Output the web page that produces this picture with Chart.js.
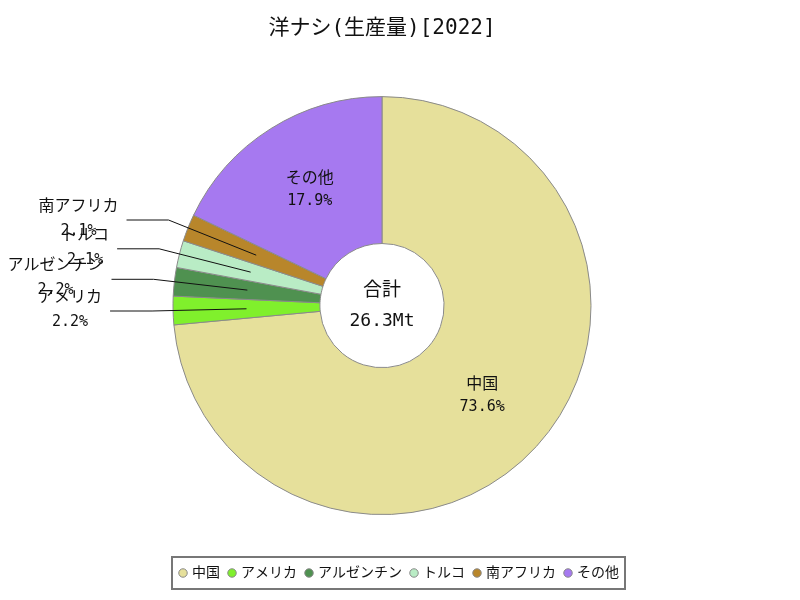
<!DOCTYPE html>
<html>
<head>
<meta charset="utf-8">
<script src="https://cdn.jsdelivr.net/npm/chart.js@4/dist/chart.umd.min.js"></script>
<style>
  html, body { margin: 0; padding: 0; background: #fff; }
  #wrap { width: 800px; height: 600px; }
</style>
</head>
<body>
<div id="wrap"><canvas id="c" width="800" height="600"></canvas></div>
<script>
// ---- data ----
const titleText = '洋ナシ(生産量)[2022]';
const categories = ['中国', 'アメリカ', 'アルゼンチン', 'トルコ', '南アフリカ', 'その他'];
const shares = [73.6, 2.2, 2.2, 2.1, 2.1, 17.9];
const centerTitle = '合計';
const centerTotal = '26.3Mt';

// ---- styles ----
const sliceColors = ['#e6e09b', '#80f02c', '#4f9150', '#b9ecc5', '#b8862b', '#a679f0'];
const FAMILY = "'DejaVu Sans Mono', 'Noto Sans CJK JP', sans-serif";

const labelPlugin = {
  id: 'sliceLabels',
  afterLayout(chart) {
    // center the legend on the full canvas width
    const lg = chart.legend;
    if (lg) { lg.left += 18; lg.right += 18; }
  },
  afterDatasetsDraw(chart) {
    const ctx = chart.ctx;
    const meta = chart.getDatasetMeta(0);
    ctx.save();
    ctx.fillStyle = '#111';
    ctx.textAlign = 'center';
    ctx.textBaseline = 'middle';
    const nameFont = '16px ' + FAMILY;
    const pctFont = '15px ' + FAMILY;
    meta.data.forEach((arc, i) => {
      const p = arc.getProps(['x', 'y', 'startAngle', 'endAngle', 'innerRadius', 'outerRadius'], true);
      const mid = (p.startAngle + p.endAngle) / 2;
      const rMid = (p.innerRadius + p.outerRadius) / 2;
      const px = p.x + Math.cos(mid) * rMid;
      const py = p.y + Math.sin(mid) * rMid;
      const pct = shares[i].toFixed(1) + '%';
      if (shares[i] >= 5) {
        ctx.font = nameFont;
        ctx.fillText(categories[i], px, py - 12);
        ctx.font = pctFont;
        ctx.fillText(pct, px, py + 10);
      } else {
        const rE = p.outerRadius + 21;
        const ex = p.x + Math.cos(mid) * rE;
        const ey = p.y + Math.sin(mid) * rE;
        const lx = ex - 42;
        ctx.beginPath();
        ctx.strokeStyle = '#111';
        ctx.lineWidth = 1;
        ctx.moveTo(px, py);
        ctx.lineTo(ex, ey);
        ctx.lineTo(lx, ey);
        ctx.stroke();
        ctx.font = nameFont;
        const w = ctx.measureText(categories[i]).width;
        const cx = lx - 8 - w / 2;
        ctx.fillText(categories[i], cx, ey - 13);
        ctx.font = pctFont;
        ctx.fillText(pct, cx, ey + 11);
      }
    });
    // center text
    const a0 = meta.data[0];
    ctx.font = '19px ' + FAMILY;
    ctx.fillText(centerTitle, a0.x, a0.y - 15);
    ctx.font = '18px ' + FAMILY;
    ctx.fillText(centerTotal, a0.x, a0.y + 16);
    ctx.restore();
  },
  afterDraw(chart) {
    const lg = chart.legend;
    if (!lg || !lg.legendHitBoxes || !lg.legendHitBoxes.length) return;
    const hb = lg.legendHitBoxes;
    const first = hb[0], last = hb[hb.length - 1];
    const ctx = chart.ctx;
    ctx.save();
    ctx.strokeStyle = '#777';
    ctx.lineWidth = 2;
    const l = first.left - 9, r = last.left + last.width + 6;
    const t = first.top - 9, b = first.top + first.height + 9;
    ctx.strokeRect(l, t, r - l, b - t);
    ctx.restore();
  }
};

new Chart(document.getElementById('c'), {
  type: 'doughnut',
  data: {
    labels: categories,
    datasets: [{
      data: shares,
      backgroundColor: sliceColors,
      borderColor: '#8a8a8a',
      borderWidth: 1,
      radius: 209,
      cutout: '29.7%'
    }]
  },
  options: {
    responsive: false,
    animation: false,
    layout: { padding: { left: 0, right: 36, top: 0, bottom: 10 } },
    plugins: {
      title: {
        display: true,
        text: titleText,
        color: '#111',
        font: { family: FAMILY, size: 21, weight: 'normal' },
        padding: { top: 16, bottom: 14 }
      },
      legend: {
        position: 'bottom',
        labels: {
          usePointStyle: true,
          pointStyle: 'circle',
          boxWidth: 4,
          boxHeight: 6,
          padding: 10,
          color: '#111',
          font: { family: FAMILY, size: 14 }
        }
      },
      tooltip: { enabled: false }
    }
  },
  plugins: [labelPlugin]
});
</script>
</body>
</html>
